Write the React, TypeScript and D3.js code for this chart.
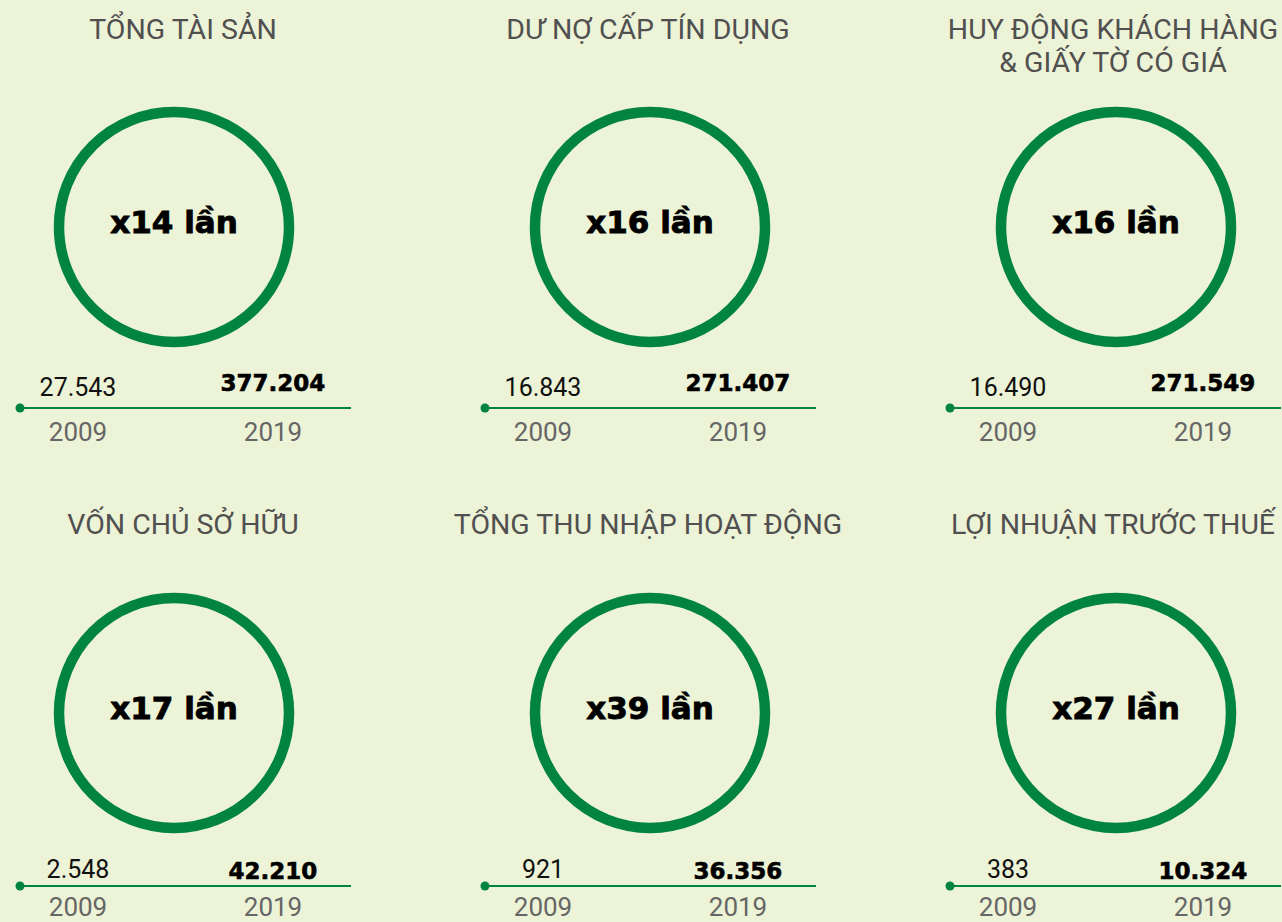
import React from "react";
import * as d3 from "d3";

const titles: string[][] = [
  ["TỔNG TÀI SẢN"],
  ["DƯ NỢ CẤP TÍN DỤNG"],
  ["HUY ĐỘNG KHÁCH HÀNG", "& GIẤY TỜ CÓ GIÁ"],
  ["VỐN CHỦ SỞ HỮU"],
  ["TỔNG THU NHẬP HOẠT ĐỘNG"],
  ["LỢI NHUẬN TRƯỚC THUẾ"],
];
const years: number[] = [2009, 2019];
const values2009: string[] = ["27.543", "16.843", "16.490", "2.548", "921", "383"];
const values2019: string[] = ["377.204", "271.407", "271.549", "42.210", "36.356", "10.324"];
const multipliers: string[] = ["x14 lần", "x16 lần", "x16 lần", "x17 lần", "x39 lần", "x27 lần"];

const W = 1282;
const H = 922;
const BG = "#EDF3D6";
const GREEN = "#00843F";

export default function App() {
  const cols = 3;
  const colX = d3.scalePoint<number>().domain([0, 1, 2]).range([20, 950]);
  const circleDx = [154, 165, 166];
  const rowTitleY = [39, 534];
  const rowCircleY = [227, 713];
  const rowLineY = [408, 886];
  const rowValY = [396, 878];
  const rowBoldY = [391, 879];
  const rowYearY = [441, 916];
  const lineLen = 331;
  const yearX = d3.scaleLinear().domain([years[0], years[1]]).range([58, 253]);

  return (
    <svg width={W} height={H} style={{ position: "absolute", left: 0, top: 0 }}>
      <rect x={0} y={0} width={W} height={H} fill={BG} />
      {titles.map((t, i) => {
        const c = i % cols;
        const r = Math.floor(i / cols);
        const x0 = colX(c)!;
        const tx = x0 + 163;
        const cx = x0 + circleDx[c];
        const ly = rowLineY[r];
        return (
          <g key={i}>
            {t.map((line, k) => (
              <text
                key={k}
                x={tx}
                y={rowTitleY[r] + k * 33}
                textAnchor="middle"
                fontFamily="Roboto"
                fontSize={28.5}
                fill="#505050"
              >
                {line}
              </text>
            ))}
            <circle cx={cx} cy={rowCircleY[r]} r={115} fill="none" stroke={GREEN} strokeWidth={10.5} />
            <text
              x={cx}
              y={rowCircleY[r] + 6}
              textAnchor="middle"
              fontFamily="DejaVu Sans"
              fontWeight="bold"
              fontSize={31}
              fill="#000"
              stroke="#000"
              strokeWidth={0.9}
            >
              {multipliers[i]}
            </text>
            <line x1={x0} x2={Math.min(x0 + lineLen, W)} y1={ly} y2={ly} stroke={GREEN} strokeWidth={2} />
            <circle cx={x0} cy={ly} r={4.5} fill={GREEN} />
            <text
              x={x0 + yearX(years[0])}
              y={rowValY[r]}
              textAnchor="middle"
              fontFamily="Roboto"
              fontSize={25}
              fill="#111"
            >
              {values2009[i]}
            </text>
            <text
              x={x0 + yearX(years[1])}
              y={rowBoldY[r]}
              textAnchor="middle"
              fontFamily="DejaVu Sans"
              fontWeight="bold"
              fontSize={23}
              fill="#000"
              stroke="#000"
              strokeWidth={0.6}
            >
              {values2019[i]}
            </text>
            {years.map((yr) => (
              <text
                key={yr}
                x={x0 + yearX(yr)}
                y={rowYearY[r]}
                textAnchor="middle"
                fontFamily="Roboto"
                fontSize={26}
                fill="#666"
              >
                {yr}
              </text>
            ))}
          </g>
        );
      })}
    </svg>
  );
}
